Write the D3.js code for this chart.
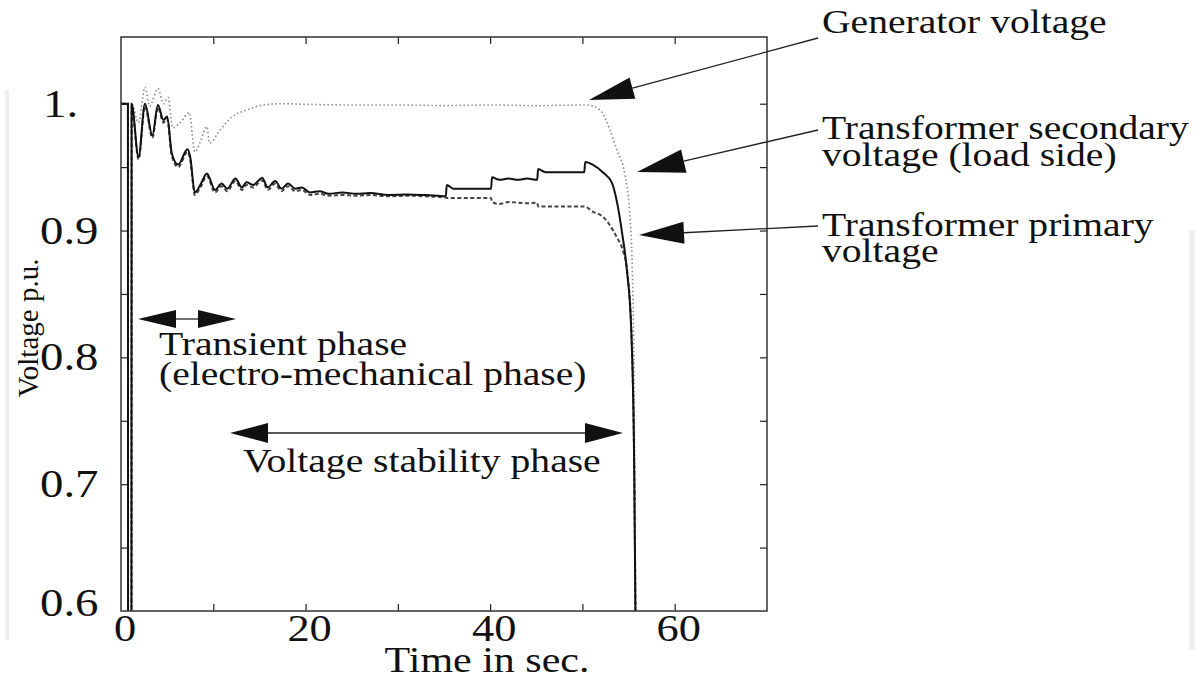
<!DOCTYPE html>
<html>
<head>
<meta charset="utf-8">
<script src="https://cdn.jsdelivr.net/npm/d3@7"></script>
<style>
  body { margin: 0; background: #fff; }
  text { font-family: "Liberation Serif", "DejaVu Serif", serif; fill: #111; }
</style>
</head>
<body>
<div id="chart"></div>
<script>
// time axis (seconds) and voltages (p.u.)
const secTime = [0, 0.75, 0.78, 1.12, 1.15, 1.9, 2.6, 3.4, 4.0, 4.6, 5.0, 5.5, 6.2, 7.2, 7.5, 8.0, 8.6, 9.3, 10.2, 10.9, 11.5, 12.4, 13.1, 13.6, 14.3, 15.3, 15.9, 16.7, 17.4, 18.1, 18.9, 19.6, 20.5, 21.5, 22.5, 24, 25.5, 27, 29, 31, 33, 35.2, 35.3, 36, 38, 40.1, 40.2, 41, 42, 43, 44, 45.1, 45.2, 46, 48, 50.2, 50.3, 51.1, 52.2, 53.2, 53.7, 54.3, 54.8, 55.3, 55.6, 55.8];
const secVoltage = [1.0, 1.0, 0.2, 0.2, 1.0, 0.958, 1.0, 0.975, 0.999, 0.987, 0.99, 0.961, 0.952, 0.964, 0.958, 0.930, 0.936, 0.945, 0.932, 0.937, 0.933, 0.941, 0.934, 0.938, 0.936, 0.9415, 0.934, 0.939, 0.933, 0.937, 0.933, 0.934, 0.930, 0.931, 0.929, 0.930, 0.929, 0.9295, 0.928, 0.9285, 0.928, 0.927, 0.936, 0.933, 0.933, 0.933, 0.942, 0.940, 0.941, 0.940, 0.941, 0.940, 0.9485, 0.946, 0.946, 0.946, 0.954, 0.952, 0.946, 0.9375, 0.924, 0.898, 0.870, 0.82, 0.72, 0.55];

const priTime = [0, 0.75, 0.78, 1.12, 1.15, 1.9, 2.6, 3.4, 4.0, 4.6, 5.0, 5.5, 6.2, 7.2, 7.5, 8.0, 8.6, 9.3, 10.2, 10.9, 11.5, 12.4, 13.1, 13.6, 14.3, 15.3, 15.9, 16.7, 17.4, 18.1, 18.9, 19.6, 20.5, 21.5, 22.5, 24, 25.5, 27, 29, 31, 33, 35.2, 35.3, 38, 40.1, 40.2, 41, 42, 43, 44, 45.1, 45.2, 48, 50.2, 51.1, 52.2, 53.0, 53.7, 54.3, 54.9, 55.3, 55.6, 55.8];
const priVoltage = [1.0, 1.0, 0.2, 0.2, 0.998, 0.956, 0.998, 0.973, 0.997, 0.985, 0.988, 0.959, 0.950, 0.962, 0.956, 0.928, 0.934, 0.943, 0.930, 0.935, 0.931, 0.939, 0.932, 0.936, 0.934, 0.9395, 0.932, 0.937, 0.931, 0.935, 0.931, 0.932, 0.928, 0.929, 0.9275, 0.928, 0.9275, 0.928, 0.927, 0.9275, 0.927, 0.926, 0.9257, 0.9257, 0.9257, 0.9225, 0.921, 0.9225, 0.922, 0.9215, 0.922, 0.919, 0.919, 0.919, 0.915, 0.911, 0.904, 0.895, 0.886, 0.865, 0.82, 0.72, 0.55];

const genTime = [0, 0.75, 0.78, 1.12, 1.15, 1.9, 2.6, 3.1, 4.0, 4.6, 5.1, 5.6, 6.4, 7.4, 8.0, 8.6, 9.3, 9.6, 10.7, 12.1, 13.6, 15.4, 17.5, 20, 25, 30, 35, 40, 45, 50.5, 51.9, 53.0, 53.7, 54.6, 55.1, 55.4, 55.6, 55.8];
const genVoltage = [1.0, 1.0, 0.2, 0.2, 1.0, 0.985, 1.013, 0.998, 1.012, 1.0, 1.005, 0.981, 0.985, 0.993, 0.962, 0.970, 0.982, 0.969, 0.979, 0.990, 0.995, 0.999, 1.0, 0.9995, 0.999, 0.999, 0.9985, 0.999, 0.9985, 0.999, 0.995, 0.979, 0.964, 0.944, 0.916, 0.87, 0.78, 0.55];

const xTickLabels = [0, 20, 40, 60];
const xMinorTicks = [10, 20, 30, 40, 50, 60];
const yTickLabels = ['1.', '0.9', '0.8', '0.7', '0.6'];
const yTickValues = [1.0, 0.9, 0.8, 0.7, 0.6];
const yMinorTicks = [0.65, 0.7, 0.75, 0.8, 0.85, 0.9, 0.95, 1.0];

function label(g, x, y, str, size, anchor) {
    return g.append('text')
        .attr('transform', 'translate(' + x + ',' + y + ') scale(1.2,1)')
        .attr('text-anchor', anchor || 'start')
        .style('font-size', size + 'px')
        .text(str);
}

function pointer(g, x1, y1, x2, y2, headLen, headHalf) {
    // thin line from (x1,y1) to tip (x2,y2) with a filled triangular head
    const ang = Math.atan2(y2 - y1, x2 - x1);
    const bx = x2 - headLen * Math.cos(ang);
    const by = y2 - headLen * Math.sin(ang);
    const nx = -Math.sin(ang) * headHalf;
    const ny = Math.cos(ang) * headHalf;
    g.append('line')
        .attr('x1', x1).attr('y1', y1).attr('x2', bx).attr('y2', by)
        .attr('stroke', '#222').attr('stroke-width', 1.3);
    g.append('path')
        .attr('d', 'M' + x2 + ',' + y2 + 'L' + (bx + nx) + ',' + (by + ny) + 'L' + (bx - nx) + ',' + (by - ny) + 'Z')
        .attr('fill', '#111');
}

function draw() {
    const width = 1200;
    const height = 678;

    const svg = d3.select('#chart')
        .append('svg')
        .attr('width', width)
        .attr('height', height);

    const x = d3.scaleLinear().domain([0, 70]).range([121, 767]);
    const y = d3.scaleLinear().domain([0.6, 1.0526]).range([611, 37]);

    // faint scan edges
    svg.append('rect').attr('x', 5).attr('y', 90).attr('width', 4).attr('height', 550).attr('fill', '#eee');
    svg.append('rect').attr('x', 1189).attr('y', 230).attr('width', 6).attr('height', 420).attr('fill', '#eee');

    svg.append('clipPath').attr('id', 'plot-clip')
        .append('rect')
        .attr('x', x(0)).attr('y', y(1.0526))
        .attr('width', x(70) - x(0)).attr('height', y(0.6) - y(1.0526));

    // frame ticks, drawn inward on all four sides
    const axes = svg.append('g').attr('class', 'axes');
    axes.append('g')
        .attr('transform', 'translate(0,' + y(0.6) + ')')
        .call(d3.axisBottom(x).tickValues(xMinorTicks).tickSize(-7).tickFormat(''));
    axes.append('g')
        .attr('transform', 'translate(0,' + y(1.0526) + ')')
        .call(d3.axisTop(x).tickValues(xMinorTicks).tickSize(-7).tickFormat(''));
    axes.append('g')
        .attr('transform', 'translate(' + x(0) + ',0)')
        .call(d3.axisLeft(y).tickValues(yMinorTicks).tickSize(-7).tickFormat(''));
    axes.append('g')
        .attr('transform', 'translate(' + x(70) + ',0)')
        .call(d3.axisRight(y).tickValues(yMinorTicks).tickSize(-7).tickFormat(''));
    axes.selectAll('.domain').remove();
    axes.selectAll('line').attr('stroke', '#222').attr('stroke-width', 1.2);

    const lineGen = d3.line()
        .x(d => x(d[0]))
        .y(d => y(d[1]))
        .curve(d3.curveMonotoneX);

    const curves = svg.append('g').attr('clip-path', 'url(#plot-clip)');
    curves.append('path')
        .datum(d3.zip(genTime, genVoltage))
        .attr('d', lineGen)
        .attr('fill', 'none')
        .attr('stroke', '#8a8a8a')
        .attr('stroke-width', 1.6)
        .attr('stroke-dasharray', '1.5,2.5');
    curves.append('path')
        .datum(d3.zip(priTime, priVoltage))
        .attr('d', lineGen)
        .attr('fill', 'none')
        .attr('stroke', '#444')
        .attr('stroke-width', 2)
        .attr('stroke-dasharray', '4,2.5');
    curves.append('path')
        .datum(d3.zip(secTime, secVoltage))
        .attr('d', lineGen)
        .attr('fill', 'none')
        .attr('stroke', '#111')
        .attr('stroke-width', 2);

    svg.append('rect')
        .attr('x', x(0)).attr('y', y(1.0526))
        .attr('width', x(70) - x(0)).attr('height', y(0.6) - y(1.0526))
        .attr('fill', 'none')
        .attr('stroke', '#333')
        .attr('stroke-width', 1.5);

    // tick labels
    yTickValues.forEach((v, i) => {
        label(svg, i === 0 ? 43 : 40, y(v) + 13 - (i === 4 ? 8 : 0), yTickLabels[i], 39);
    });
    xTickLabels.forEach(v => {
        label(svg, x(v) + 4, 641, String(v), 37, 'middle');
    });
    label(svg, 487, 672, 'Time in sec.', 35, 'middle');

    svg.append('text')
        .attr('transform', 'translate(38,328) rotate(-90)')
        .attr('text-anchor', 'middle')
        .style('font-size', '29px')
        .text('Voltage p.u.');

    // phase annotations
    const notes = svg.append('g').attr('class', 'notes');
    pointer(notes, 187, 319, 138, 319, 38, 9);
    pointer(notes, 187, 319, 236, 319, 38, 9);
    label(notes, 159, 355, 'Transient phase', 33);
    label(notes, 159, 385, '(electro-mechanical phase)', 33);

    pointer(notes, 426, 433, 230, 433, 38, 10);
    pointer(notes, 426, 433, 623, 433, 38, 10);
    label(notes, 243, 472, 'Voltage stability phase', 33);

    pointer(notes, 818, 38, 589, 100, 45, 11);
    label(notes, 822, 33, 'Generator voltage', 33);

    pointer(notes, 818, 130, 637, 172, 48, 12);
    label(notes, 822, 139, 'Transformer secondary', 33);
    label(notes, 822, 166, 'voltage (load side)', 33);

    pointer(notes, 818, 226, 639, 235, 45, 11);
    label(notes, 822, 236, 'Transformer primary', 33);
    label(notes, 822, 262, 'voltage', 33);
}

draw();
</script>
</body>
</html>
